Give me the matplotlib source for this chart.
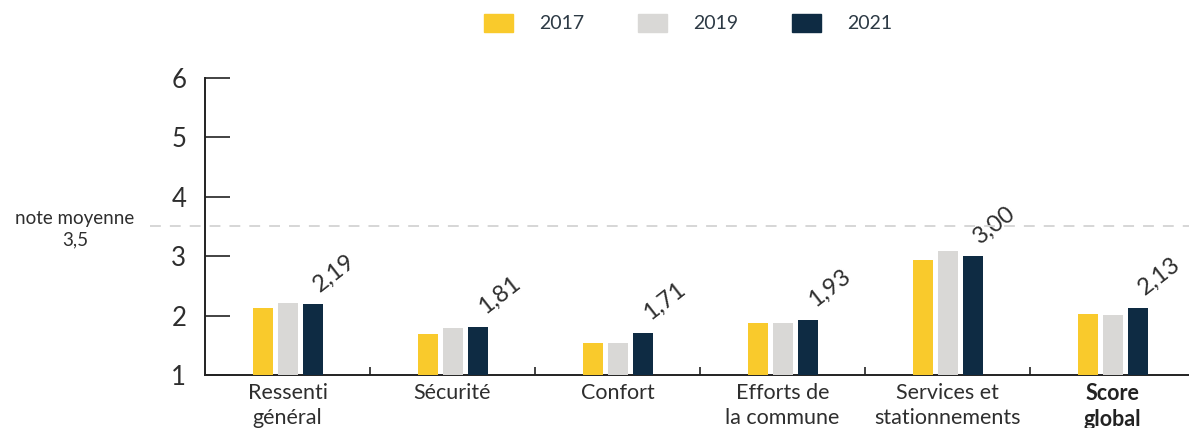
import matplotlib
matplotlib.use("Agg")
import matplotlib.pyplot as plt
from matplotlib.patches import Patch
import numpy as np

categories = ["Ressenti\ngénéral", "Sécurité", "Confort", "Efforts de\nla commune",
              "Services et\nstationnements", "Score\nglobal"]
years = ["2017", "2019", "2021"]
v2017 = [2.13, 1.69, 1.54, 1.875, 2.94, 2.03]
v2019 = [2.21, 1.79, 1.54, 1.875, 3.09, 2.01]
v2021 = [2.19, 1.81, 1.71, 1.93, 3.00, 2.13]
labels2021 = ["2,19", "1,81", "1,71", "1,93", "3,00", "2,13"]
yticks = [1, 2, 3, 4, 5, 6]
avg_value = 3.5
avg_label = "note moyenne\n3,5"

colors = ["#F9CA2C", "#D9D8D6", "#0E2B43"]
text_color = "#2E2E2E"

plt.rcParams['font.family'] = ['Lato', 'DejaVu Sans']

W, H = 1189, 428
fig = plt.figure(figsize=(W / 100, H / 100), dpi=100)
ax = fig.add_axes([205 / W, 53 / H, 990 / W, 297 / H])

x = np.arange(len(categories))
step = 25 / 165
bw = 20 / 165
series = [v2017, v2019, v2021]
for i, (vals, c) in enumerate(zip(series, colors)):
    ax.bar(x + (i - 1) * step, np.array(vals) - 1, bottom=1, width=bw, color=c, zorder=3)

for xi, v, lab in zip(x, v2021, labels2021):
    ax.annotate(lab, (xi + step, v), xytext=(10, 9), textcoords='offset pixels',
                rotation=38, rotation_mode='anchor', ha='left', va='bottom',
                fontsize=17, color=text_color)

ax.set_xlim(-0.5, len(categories) - 0.5)
ax.set_ylim(1, 6)
ax.set_yticks(yticks)
ax.set_yticklabels([str(t) for t in yticks])
ax.tick_params(axis='y', direction='in', length=18, width=1.2, colors='#222222',
               labelsize=18.5, pad=13.5, labelcolor=text_color)

ax.set_xticks(x)
ax.set_xticklabels(categories, fontsize=15.5, color=text_color, linespacing=1.3)
for t in ax.get_xticklabels():
    if t.get_text().startswith("Score"):
        t.set_fontweight('bold')
        t.set_color('#222222')
ax.tick_params(axis='x', length=0, pad=6)
ax.set_xticks(np.arange(len(categories) - 1) + 0.5, minor=True)
ax.tick_params(axis='x', which='minor', direction='in', length=6, width=1.2, colors='#222222')

for s in ['top', 'right']:
    ax.spines[s].set_visible(False)
for s in ['left', 'bottom']:
    ax.spines[s].set_linewidth(1.4)
    ax.spines[s].set_color('#222222')

# average line, extending to the left of the axis
y_px = 375 - (avg_value - 1) * 297 / 5
fig.add_artist(plt.Line2D([150 / W, 1.0], [1 - y_px / H, 1 - y_px / H],
                          color='#D3D3D3', lw=1.3, ls=(0, (6, 5)), zorder=1))
fig.text(75 / W, 1 - 229 / H, avg_label, ha='center', va='center', fontsize=13.5,
         color=text_color, linespacing=1.3)

handles = [Patch(color=c) for c in colors]
fig.legend(handles, years, loc='center', bbox_to_anchor=(688 / W, 1 - 23 / H), ncol=3,
           frameon=False, fontsize=14, labelcolor='#2D3A45', handlelength=1.49,
           handleheight=1.03, columnspacing=2.78, handletextpad=1.34,
           borderpad=0, borderaxespad=0)

fig.savefig("out.png", dpi=100)
